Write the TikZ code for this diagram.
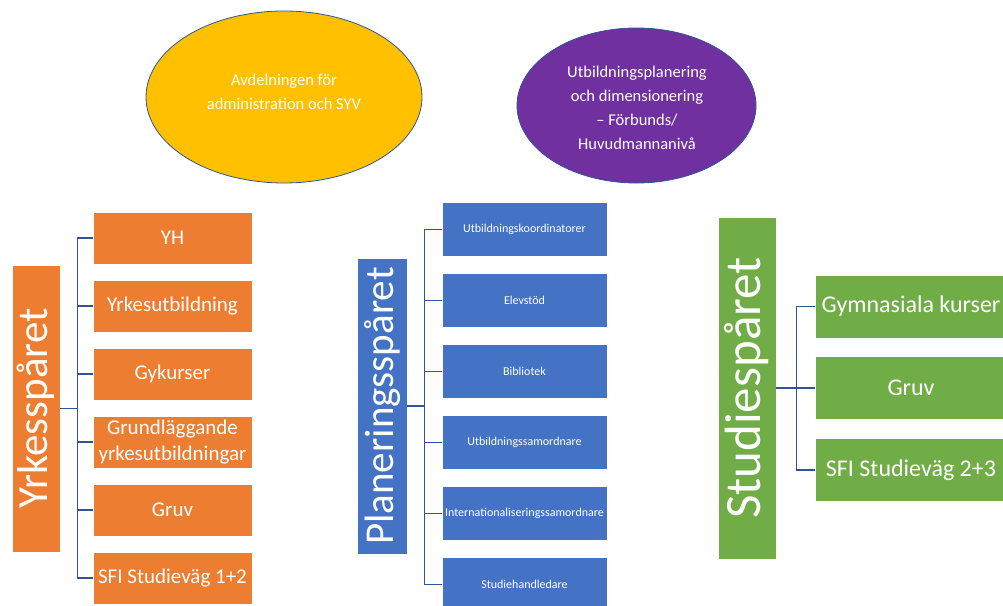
\documentclass[tikz,border=0pt]{standalone}
\usepackage{fontspec}
\setmainfont{Carlito}
\usetikzlibrary{shapes.geometric}

\definecolor{orng}{HTML}{ED7D31}
\definecolor{blu}{HTML}{4472C4}
\definecolor{grn}{HTML}{70AD47}
\definecolor{gold}{HTML}{FFC000}
\definecolor{purp}{HTML}{7030A0}
\definecolor{linje}{HTML}{2F5597}

\begin{document}
\begin{tikzpicture}[x=1pt,y=-1pt,
  oval/.style={ellipse,draw=linje,line width=0.8pt},
  ovaltext/.style={text=white,align=center,font=\fontsize{16.5}{24}\selectfont},
  spar/.style={rectangle,rotate=90,draw=white,line width=0.6pt,text=white},
  yrkbox/.style={rectangle,fill=orng,draw=white,line width=0.6pt,text=white,
    align=center,minimum width=159,minimum height=52,
    font=\fontsize{21}{25.6}\selectfont},
  planbox/.style={rectangle,fill=blu,draw=white,line width=0.6pt,text=white,
    minimum width=165,minimum height=54,font=\fontsize{12}{14}\selectfont},
  studbox/.style={rectangle,fill=grn,draw=white,line width=0.6pt,text=white,
    minimum width=192,minimum height=63,font=\fontsize{24}{28}\selectfont},
  conn/.style={draw=linje,line width=1.4pt}]
\tikzstyle{every node}+=[inner sep=0pt]
\useasboundingbox (0,0) rectangle (1003,605);

% ovaler
\node [oval,fill=gold,minimum width=276,minimum height=172] (adm) at (284,97) {};
\node [ovaltext] (admtxt) at (284,92) {Avdelningen för\\administration och SYV};
\node [oval,fill=purp,minimum width=239,minimum height=155] (utbpl) at (636.5,105.5) {};
\node [ovaltext] (utbpltxt) at (637,107.5)
  {Utbildningsplanering\\och dimensionering\\– Förbunds/\\Huvudmannanivå};

% Yrkesspåret
\node [spar,fill=orng,minimum width=287,minimum height=48,font=\fontsize{43}{48}\selectfont]
  (yrk) at (36,408.5) {Yrkesspåret};
\node [yrkbox] (yh) at (172.5,238) {YH};
\node [yrkbox] (yutb) at (172.5,306) {Yrkesutbildning};
\node [yrkbox] (gyk) at (172.5,374) {Gykurser};
\node [yrkbox] (grund) at (172.5,442) {Grundläggande\\yrkesutbildningar};
\node [yrkbox] (gruv1) at (172.5,510) {Gruv};
\node [yrkbox] (sfi1) at (172.5,578) {SFI Studieväg 1+2};

% Planeringsspåret
\node [spar,fill=blu,minimum width=296,minimum height=50,font=\fontsize{41}{48}\selectfont]
  (plan) at (382,406) {Planeringsspåret};
\node [planbox] (koord) at (524.5,229.5) {Utbildningskoordinatorer};
\node [planbox] (elev) at (524.5,300.5) {Elevstöd};
\node [planbox] (bibl) at (524.5,371.5) {Bibliotek};
\node [planbox] (samord) at (524.5,442.5) {Utbildningssamordnare};
\node [planbox] (intern) at (524.5,513.5) {Internationaliseringssamordnare};
\node [planbox] (handl) at (524.5,584.5) {Studiehandledare};

% Studiespåret
\node [spar,fill=grn,minimum width=342,minimum height=58,font=\fontsize{51}{56}\selectfont]
  (stud) at (747,388) {Studiespåret};
\node [studbox] (gymn) at (911,306.5) {Gymnasiala kurser};
\node [studbox] (gruv2) at (911,388) {Gruv};
\node [studbox] (sfi2) at (911,470) {SFI Studieväg 2+3};

% kopplingar
\draw [conn] (yrk.south) -- ++(17,0) |- (yh.west);
\draw [conn] (yrk.south) -- ++(17,0) |- (yutb.west);
\draw [conn] (yrk.south) -- ++(17,0) |- (gyk.west);
\draw [conn] (yrk.south) -- ++(17,0) |- (grund.west);
\draw [conn] (yrk.south) -- ++(17,0) |- (gruv1.west);
\draw [conn] (yrk.south) -- ++(17,0) |- (sfi1.west);
\draw [conn] (plan.south) -- ++(17,0) |- (koord.west);
\draw [conn] (plan.south) -- ++(17,0) |- (elev.west);
\draw [conn] (plan.south) -- ++(17,0) |- (bibl.west);
\draw [conn] (plan.south) -- ++(17,0) |- (samord.west);
\draw [conn] (plan.south) -- ++(17,0) |- (intern.west);
\draw [conn] (plan.south) -- ++(17,0) |- (handl.west);
\draw [conn] (stud.south) -- ++(20,0) |- (gymn.west);
\draw [conn] (stud.south) -- ++(20,0) |- (gruv2.west);
\draw [conn] (stud.south) -- ++(20,0) |- (sfi2.west);
\end{tikzpicture}
\end{document}
